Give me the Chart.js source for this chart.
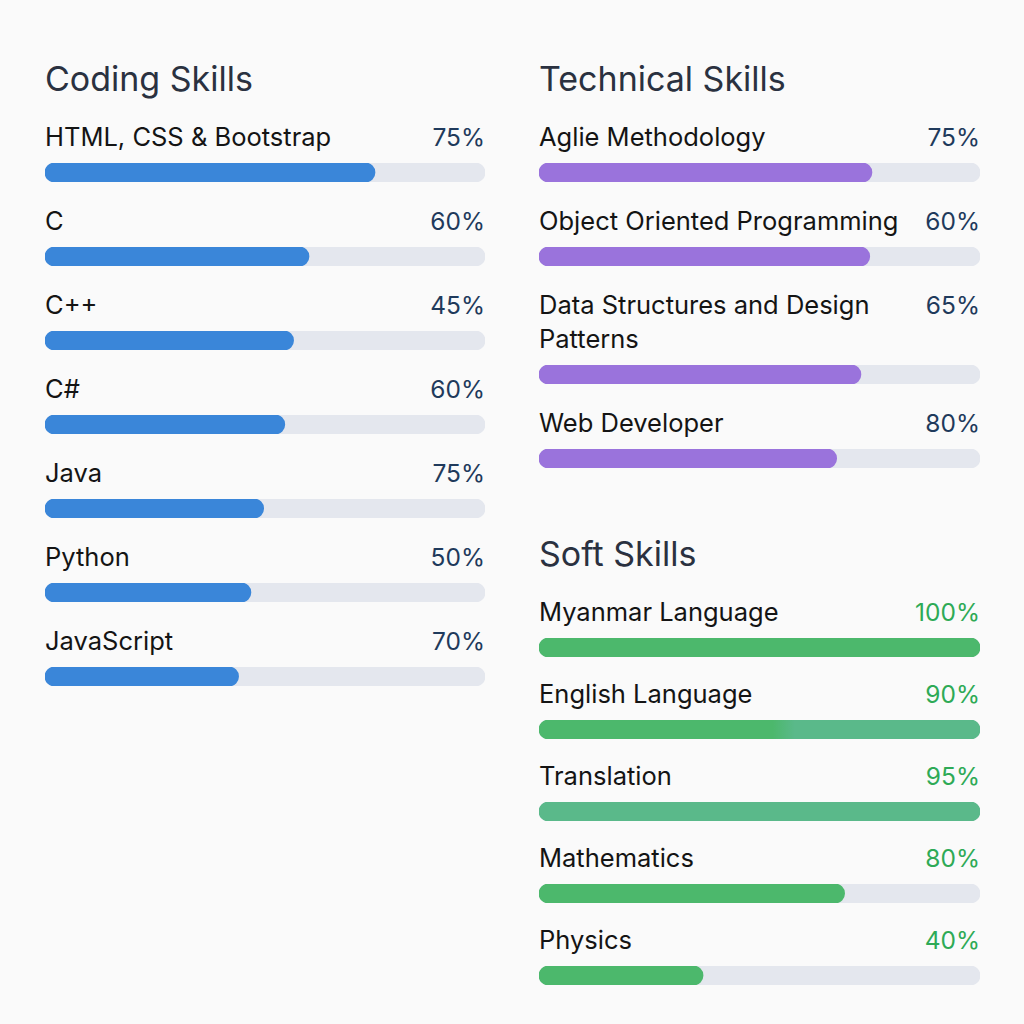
<!DOCTYPE html>
<html>
<head>
<meta charset="utf-8">
<script src="https://cdn.jsdelivr.net/npm/chart.js@4.4.1/dist/chart.umd.min.js"></script>
<style>
  html, body { margin: 0; padding: 0; background: #fafafa; width: 1024px; height: 1024px; overflow: hidden; }
  body { font-family: Inter, "Noto Sans", sans-serif; color: #141414; position: relative; }
  .panel { position: absolute; }
  .title { font-size: 34px; line-height: 40px; height: 40px; color: #2a3140; font-weight: 400; margin-bottom: 21px; }
  .row .head { display: flex; justify-content: space-between; align-items: flex-start; font-size: 25.5px; line-height: 34px; margin-bottom: 9px; }
  .row .name { max-width: 380px; }
  .row .pct { color: #1f3a5c; margin-left: 8px; white-space: nowrap; font-size: 24.5px; }
  .soft .row .pct { color: #2eaa56; }
  .row canvas { display: block; }
</style>
</head>
<body>
<div class="panel" id="coding" style="left:45px; top:59px; width:440px;"></div>
<div class="panel" id="technical" style="left:539px; top:59px; width:441px;"></div>
<div class="panel soft" id="soft" style="left:539px; top:534px; width:441px;"></div>
<script>
// ---- Data ----
const codingTitle = "Coding Skills";
const codingSkills = ["HTML, CSS & Bootstrap", "C", "C++", "C#", "Java", "Python", "JavaScript"];
const codingLabels = ["75%", "60%", "45%", "60%", "75%", "50%", "70%"];
const codingValues = [75, 60, 56.5, 54.5, 49.7, 46.8, 44];

const technicalTitle = "Technical Skills";
const technicalSkills = ["Aglie Methodology", "Object Oriented Programming", "Data Structures and Design Patterns", "Web Developer"];
const technicalLabels = ["75%", "60%", "65%", "80%"];
const technicalValues = [75.5, 75, 73, 67.5];

const softTitle = "Soft Skills";
const softSkills = ["Myanmar Language", "English Language", "Translation", "Mathematics", "Physics"];
const softLabels = ["100%", "90%", "95%", "80%", "40%"];
const softValues = [100, 100, 100, 69.3, 37.2];

const trackMax = 100;

// ---- Styles ----
const TRACK = "#e4e7ee";
const BLUE = "#3a86d9";
const PURPLE = "#9a73dc";
const GREEN = "#4cb86c";
const GREEN_LIGHT = "#5ab98a";
const softFillStyle = { "English Language": "split", "Translation": "light" };

function fillFor(panelColor, skill) {
  if (panelColor !== GREEN) return panelColor;
  const kind = softFillStyle[skill];
  if (kind === "light") return GREEN_LIGHT;
  if (kind === "split") {
    return function (ctx) {
      const chart = ctx.chart;
      const area = chart.chartArea;
      if (!area) return GREEN;
      const g = chart.ctx.createLinearGradient(area.left, 0, area.right, 0);
      g.addColorStop(0, GREEN);
      g.addColorStop(0.53, GREEN);
      g.addColorStop(0.58, GREEN_LIGHT);
      g.addColorStop(1, GREEN_LIGHT);
      return g;
    };
  }
  return GREEN;
}

function buildPanel(id, title, skills, labels, values, color, width, gapAfter) {
  const panel = document.getElementById(id);
  const t = document.createElement("div");
  t.className = "title";
  t.textContent = title;
  panel.appendChild(t);
  skills.forEach((skill, i) => {
    const row = document.createElement("div");
    row.className = "row";
    row.style.marginBottom = gapAfter + "px";
    const head = document.createElement("div");
    head.className = "head";
    const n = document.createElement("span");
    n.className = "name";
    n.textContent = skill;
    const p = document.createElement("span");
    p.className = "pct";
    p.textContent = labels[i];
    head.appendChild(n);
    head.appendChild(p);
    row.appendChild(head);
    const cv = document.createElement("canvas");
    cv.width = width;
    cv.height = 19;
    cv.style.width = width + "px";
    cv.style.height = "19px";
    row.appendChild(cv);
    panel.appendChild(row);
    new Chart(cv, {
      type: "bar",
      data: {
        labels: [skill],
        datasets: [
          { data: [values[i]], backgroundColor: fillFor(color, skill), order: 0, grouped: false,
            barPercentage: 1, categoryPercentage: 1, borderRadius: 10, borderSkipped: false },
          { data: [trackMax], backgroundColor: TRACK, order: 1, grouped: false,
            barPercentage: 1, categoryPercentage: 1, borderRadius: 10, borderSkipped: false }
        ]
      },
      options: {
        indexAxis: "y",
        responsive: false,
        maintainAspectRatio: false,
        animation: false,
        layout: { padding: 0 },
        scales: {
          x: { display: false, min: 0, max: trackMax },
          y: { display: false }
        },
        plugins: { legend: { display: false }, tooltip: { enabled: false } },
        events: []
      }
    });
  });
}

buildPanel("coding", codingTitle, codingSkills, codingLabels, codingValues, BLUE, 440, 22);
buildPanel("technical", technicalTitle, technicalSkills, technicalLabels, technicalValues, PURPLE, 441, 22);
buildPanel("soft", softTitle, softSkills, softLabels, softValues, GREEN, 441, 20);
</script>
</body>
</html>
